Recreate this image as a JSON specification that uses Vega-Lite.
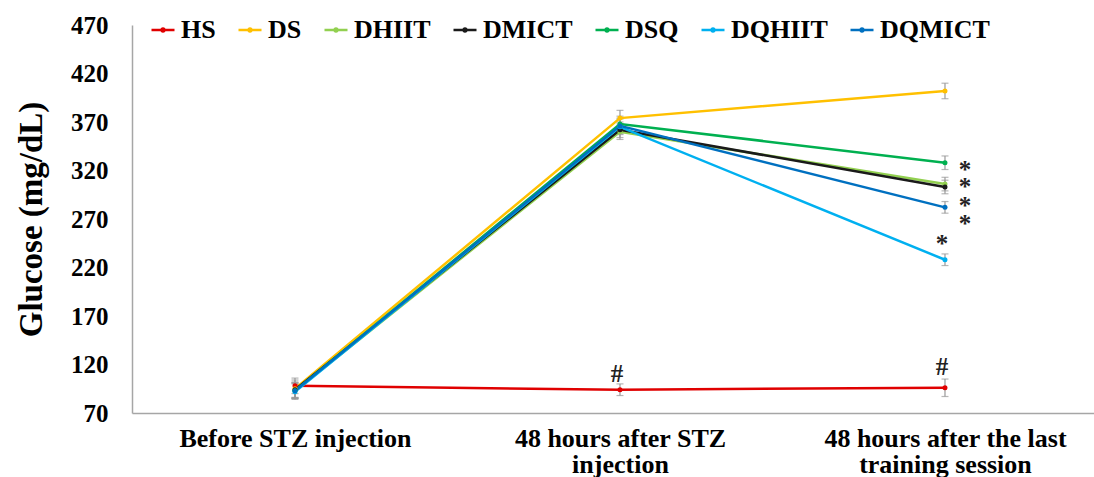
{
  "$schema": "https://vega.github.io/schema/vega-lite/v6.json",
  "autosize": {"type": "none"},
  "padding": {"left": 132, "top": 25, "right": 0, "bottom": 64},
  "width": 962,
  "height": 388,
  "background": "white",
  "config": {"view": {"stroke": null}, "font": "Liberation Serif"},
  "datasets": {
    "glucose": [
      {"phase": "Before STZ injection", "group": "HS", "value": 98, "err": 8},
      {"phase": "48 hours after STZ injection", "group": "HS", "value": 94, "err": 6},
      {"phase": "48 hours after the last training session", "group": "HS", "value": 96, "err": 9},
      {"phase": "Before STZ injection", "group": "DS", "value": 95, "err": 9},
      {"phase": "48 hours after STZ injection", "group": "DS", "value": 374, "err": 8},
      {"phase": "48 hours after the last training session", "group": "DS", "value": 402, "err": 8},
      {"phase": "Before STZ injection", "group": "DHIIT", "value": 93, "err": 8},
      {"phase": "48 hours after STZ injection", "group": "DHIIT", "value": 360, "err": 8},
      {"phase": "48 hours after the last training session", "group": "DHIIT", "value": 306, "err": 7},
      {"phase": "Before STZ injection", "group": "DMICT", "value": 94, "err": 8},
      {"phase": "48 hours after STZ injection", "group": "DMICT", "value": 362, "err": 8},
      {"phase": "48 hours after the last training session", "group": "DMICT", "value": 303, "err": 7},
      {"phase": "Before STZ injection", "group": "DSQ", "value": 93, "err": 8},
      {"phase": "48 hours after STZ injection", "group": "DSQ", "value": 368, "err": 8},
      {"phase": "48 hours after the last training session", "group": "DSQ", "value": 328, "err": 7},
      {"phase": "Before STZ injection", "group": "DQHIIT", "value": 92, "err": 8},
      {"phase": "48 hours after STZ injection", "group": "DQHIIT", "value": 365, "err": 8},
      {"phase": "48 hours after the last training session", "group": "DQHIIT", "value": 228, "err": 6},
      {"phase": "Before STZ injection", "group": "DQMICT", "value": 93, "err": 8},
      {"phase": "48 hours after STZ injection", "group": "DQMICT", "value": 366, "err": 8},
      {"phase": "48 hours after the last training session", "group": "DQMICT", "value": 282, "err": 6}
    ],
    "stars": [
      {"phase": "48 hours after the last training session", "y": 327, "label": "*"},
      {"phase": "48 hours after the last training session", "y": 309, "label": "*"},
      {"phase": "48 hours after the last training session", "y": 290, "label": "*"},
      {"phase": "48 hours after the last training session", "y": 271, "label": "*"}
    ],
    "marks": [
      {"phase": "48 hours after the last training session", "y": 248, "label": "*"},
      {"phase": "48 hours after STZ injection", "y": 114, "label": "#"},
      {"phase": "48 hours after the last training session", "y": 122, "label": "#"}
    ]
  },
  "encoding": {
    "x": {
      "field": "phase",
      "type": "nominal",
      "sort": ["Before STZ injection", "48 hours after STZ injection", "48 hours after the last training session"],
      "scale": {"type": "point", "padding": 0.48, "align": 0.5224},
      "axis": {
        "title": null,
        "domainColor": "#a6a6a6",
        "domainWidth": 1.5,
        "ticks": false,
        "labelAngle": 0,
        "labelLimit": 0,
        "labelFont": "Liberation Serif",
        "labelFontWeight": "bold",
        "labelFontSize": 26,
        "labelColor": "black",
        "labelPadding": 12,
        "labelLineHeight": 26,
        "labelExpr": "datum.value == '48 hours after STZ injection' ? ['48 hours after STZ', 'injection'] : datum.value == '48 hours after the last training session' ? ['48 hours after the last', 'training session'] : datum.value"
      }
    }
  },
  "layer": [
    {
      "data": {"name": "glucose"},
      "mark": {"type": "errorbar", "color": "#999999", "thickness": 1.2, "ticks": {"size": 7, "color": "#999999"}},
      "encoding": {
        "y": {"field": "value", "type": "quantitative", "scale": {"domain": [70, 470], "nice": false, "zero": false},
          "axis": {
            "title": "Glucose (mg/dL)",
            "values": [70, 120, 170, 220, 270, 320, 370, 420, 470],
            "grid": false,
            "ticks": false,
            "domainColor": "#a6a6a6",
            "domainWidth": 1.5,
            "labelFont": "Liberation Serif",
            "labelFontWeight": "bold",
            "labelFontSize": 25,
            "labelColor": "black",
            "labelPadding": 24,
            "titleFont": "Liberation Serif",
            "titleFontWeight": "bold",
            "titleFontSize": 33,
            "titleColor": "black",
            "titlePadding": 22
          }
        },
        "yError": {"field": "err"}
      }
    },
    {
      "data": {"name": "glucose"},
      "mark": {"type": "line", "strokeWidth": 2.5},
      "encoding": {
        "y": {"field": "value", "type": "quantitative"},
        "color": {
          "field": "group",
          "type": "nominal",
          "scale": {
            "domain": ["HS", "DS", "DHIIT", "DMICT", "DSQ", "DQHIIT", "DQMICT"],
            "range": ["#e00000", "#ffc000", "#92d050", "#1a1a1a", "#00b050", "#00b0f0", "#0070c0"]
          },
          "legend": {
            "title": null,
            "orient": "none",
            "direction": "horizontal",
            "legendX": 18,
            "legendY": -8,
            "padding": 0,
            "symbolType": "M-1,0H1M-0.12,0A0.12,0.12,0,1,1,0.12,0A0.12,0.12,0,1,1,-0.12,0",
            "symbolSize": 529,
            "symbolStrokeWidth": 2.5,
            "labelFont": "Liberation Serif",
            "labelFontWeight": "bold",
            "labelFontSize": 26,
            "labelColor": "black",
            "labelOffset": 5,
            "columnPadding": 17
          }
        }
      }
    },
    {
      "data": {"name": "glucose"},
      "mark": {"type": "point", "filled": true, "size": 25, "opacity": 1},
      "encoding": {
        "y": {"field": "value", "type": "quantitative"},
        "color": {"field": "group", "type": "nominal", "legend": null}
      }
    },
    {
      "data": {"name": "stars"},
      "mark": {"type": "text", "dx": 20, "dy": 6, "fontSize": 25, "fontWeight": "bold", "font": "Liberation Serif", "color": "#222222", "baseline": "middle"},
      "encoding": {
        "y": {"field": "y", "type": "quantitative"},
        "text": {"field": "label"}
      }
    },
    {
      "data": {"name": "marks"},
      "mark": {"type": "text", "dx": -3, "dy": 4, "fontSize": 25, "fontWeight": "bold", "font": "Liberation Serif", "color": "#222222", "baseline": "middle"},
      "encoding": {
        "y": {"field": "y", "type": "quantitative"},
        "text": {"field": "label"}
      }
    }
  ]
}
